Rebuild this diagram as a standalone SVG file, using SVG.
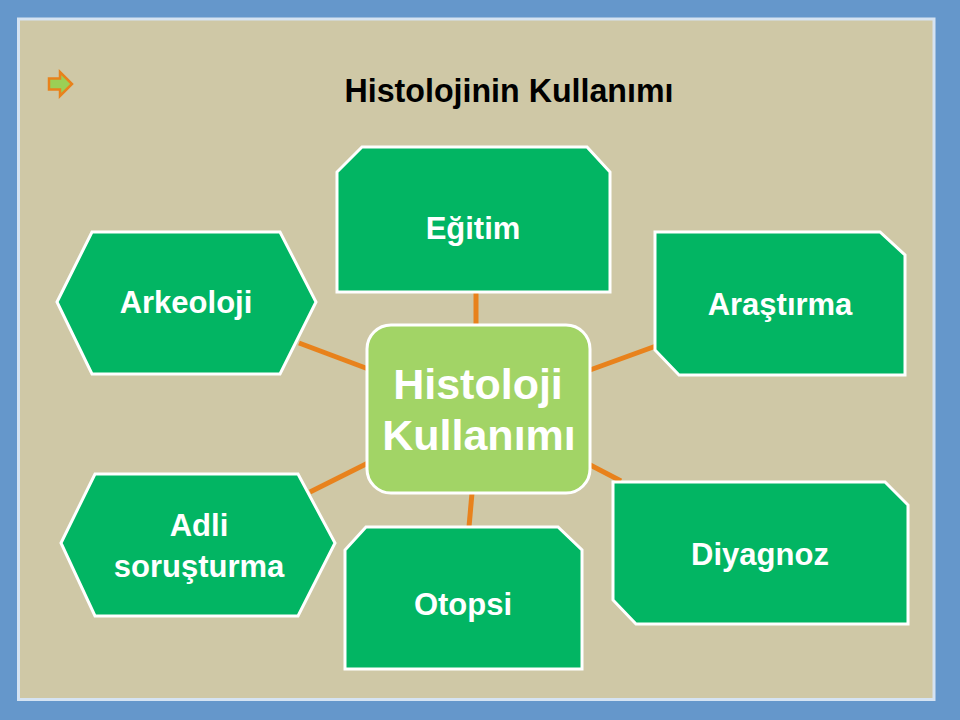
<svg xmlns="http://www.w3.org/2000/svg" width="960" height="720" viewBox="0 0 960 720">
  <defs>
    <style>
      .node { fill: #02B563; stroke: #FFFFFF; stroke-width: 3; stroke-linejoin: miter; }
      .center { fill: #A2D466; stroke: #FFFFFF; stroke-width: 3; }
      .lbl { font-family: "Liberation Sans", Arial, sans-serif; font-weight: bold; fill: #FFFFFF; text-anchor: middle; font-size: 31px; }
      .big { font-size: 43px; }
      .conn { stroke: #E8821C; stroke-width: 5; stroke-linecap: butt; fill: none; }
      .title { font-family: "Liberation Sans", Arial, sans-serif; font-weight: bold; fill: #000000; font-size: 34px; text-anchor: middle; }
    </style>
  </defs>

  <!-- frame -->
  <rect x="0" y="0" width="960" height="720" fill="#6597CB"/>
  <rect x="17" y="17.5" width="918.5" height="683.5" fill="#D5E3F2"/>
  <rect x="20" y="20.5" width="912.5" height="677.5" fill="#CFC8A6"/>

  <!-- bullet arrow -->
  <g id="bullet">
    <path d="M49,78.5 L60,78.5 L60,72 L72,84 L60,96 L60,89.5 L49,89.5 Z" fill="#9BCF55" stroke="#E8821C" stroke-width="2.5" stroke-linejoin="miter"/>
  </g>

  <!-- title -->
  <g id="title">
    <text class="title" x="509" y="102" textLength="329" lengthAdjust="spacingAndGlyphs">Histolojinin Kullanımı</text>
  </g>

  <!-- connectors -->
  <g id="connectors">
    <line class="conn" x1="476" y1="292" x2="476" y2="326"/>
    <line class="conn" x1="299" y1="343" x2="379" y2="373"/>
    <line class="conn" x1="579" y1="374" x2="656" y2="346"/>
    <line class="conn" x1="310" y1="492" x2="386" y2="454"/>
    <line class="conn" x1="571" y1="455" x2="621" y2="481"/>
    <line class="conn" x1="472" y1="493" x2="469" y2="527"/>
  </g>

  <!-- nodes -->
  <g id="egitim">
    <path class="node" d="M362,147 L587,147 L610,172 L610,292 L337,292 L337,172 Z"/>
    <text class="lbl" x="473" y="239">Eğitim</text>
  </g>

  <g id="arkeoloji">
    <path class="node" d="M57,302 L92,232 L280,232 L316,302 L280,374 L92,374 Z"/>
    <text class="lbl" x="186" y="313">Arkeoloji</text>
  </g>

  <g id="arastirma">
    <path class="node" d="M655,232 L880,232 L905,255 L905,375 L679,375 L655,350 Z"/>
    <text class="lbl" x="780" y="315">Araştırma</text>
  </g>

  <g id="merkez">
    <rect class="center" x="367" y="325" width="223" height="168" rx="24" ry="24"/>
    <text class="lbl big" x="478" y="399">Histoloji</text>
    <text class="lbl big" x="479" y="450">Kullanımı</text>
  </g>

  <g id="adli">
    <path class="node" d="M61,543 L95,474 L298,474 L335,543 L298,616 L95,616 Z"/>
    <text class="lbl" x="199" y="536">Adli</text>
    <text class="lbl" x="199" y="577">soruşturma</text>
  </g>

  <g id="otopsi">
    <path class="node" d="M366,527 L558,527 L582,550 L582,669 L345,669 L345,550 Z"/>
    <text class="lbl" x="463" y="615">Otopsi</text>
  </g>

  <g id="diyagnoz">
    <path class="node" d="M613,482 L885,482 L908,505 L908,624 L636,624 L613,600 Z"/>
    <text class="lbl" x="760" y="565">Diyagnoz</text>
  </g>
</svg>
